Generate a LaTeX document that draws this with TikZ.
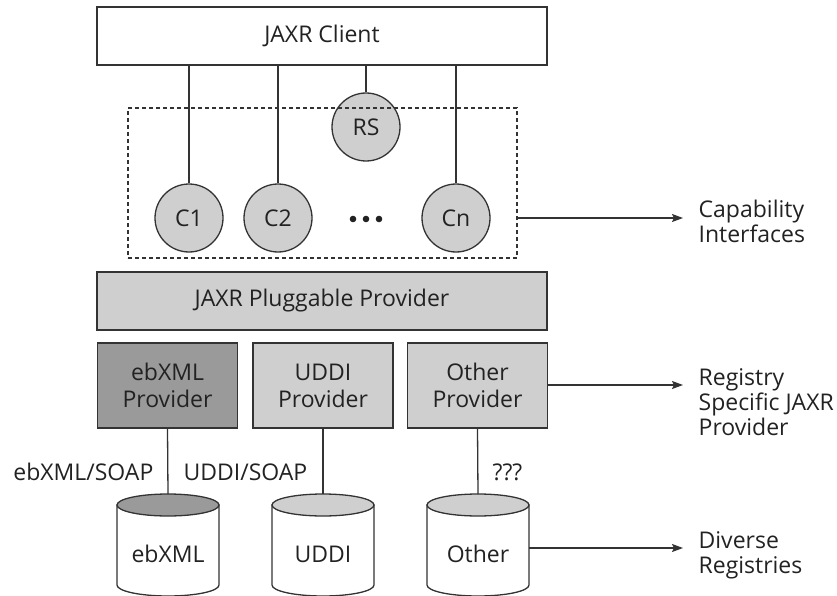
\documentclass[tikz,border=0pt]{standalone}
\usepackage{fontspec}
\setmainfont{Open Sans}
\usetikzlibrary{arrows.meta}
\definecolor{lg}{HTML}{CFCFCF}
\definecolor{dg}{HTML}{9A9A9A}
\definecolor{ln}{HTML}{333333}
\definecolor{tx}{HTML}{222222}
\newcommand\mycyl[2]{%
  \filldraw[draw=ln, fill=white] (#1-51,505) -- (#1-51,585)
    arc[start angle=180, end angle=360, x radius=51pt, y radius=11pt] -- (#1+51,505) -- cycle;
  \filldraw[draw=ln, fill=#2] (#1,505) ellipse[x radius=51pt, y radius=11pt];
}
\begin{document}
\begin{tikzpicture}[x=1pt, y=-1pt, line width=1.3pt, draw=ln,
  every node/.style={text=tx, font=\fontsize{23}{25}\selectfont},
  boxw/.style={draw=ln, rectangle, inner sep=0pt, align=center, minimum width=450pt, minimum height=58pt},
  prov/.style={draw=ln, rectangle, inner sep=0pt, align=center, minimum width=140pt, minimum height=85pt, font=\fontsize{23}{27}\selectfont},
  iface/.style={draw=ln, circle, fill=lg, inner sep=0pt, minimum size=68pt},
  arr/.style={draw=ln, -{Stealth[length=11pt, width=8pt, inset=2pt]}},
  side/.style={anchor=base west, align=left, inner sep=0pt}]
\useasboundingbox (0,0) rectangle (837,596);

% top client
\node[boxw, fill=white] (client) at (322,36) {JAXR Client};
\node[iface] (rs) at (366,127) {RS};
\node[draw=ln, dashed, dash pattern=on 4pt off 3pt, rectangle, minimum width=389pt, minimum height=150pt, inner sep=0pt] (caps) at (322.5,183) {};
\node[iface] (c1) at (189,218) {C1};
\node[iface] (c2) at (278,218) {C2};
\node[iface] (cn) at (456,218) {Cn};
\foreach \dx in {353,366,379} \fill[tx] (\dx,219) circle[radius=3.3pt];

\draw (c1 |- client.south) -- (c1.north);
\draw (c2 |- client.south) -- (c2.north);
\draw (rs |- client.south) -- (rs.north);
\draw (cn |- client.south) -- (cn.north);

\coordinate (capend) at (683,218);
\draw[arr] (caps.east |- capend) -- (capend);
\node[side] (caplab) at (698,242) {Capability\\Interfaces};

% pluggable provider
\node[boxw, fill=lg] (plug) at (322,301) {JAXR Pluggable Provider};

% providers
\node[prov, fill=dg] (ebp) at (167.5,385.5) {ebXML\\Provider};
\node[prov, fill=lg] (udp) at (323,385.5) {UDDI\\Provider};
\node[prov, fill=lg] (otp) at (477.5,385.5) {Other\\Provider};

\coordinate (regend) at (683,385);
\draw[arr] (otp.east |- regend) -- (regend);
\node[side] (reglab) at (698,435) {Registry\\Specific JAXR\\Provider};

% registries
\mycyl{168}{dg}
\mycyl{323}{lg}
\mycyl{478}{lg}
\coordinate (ebtop) at (168,494);
\coordinate (udtop) at (323,494);
\coordinate (ottop) at (478,494);
\node (ebdb) at (168,554) {ebXML};
\node (uddb) at (323,554) {UDDI};
\node (otdb) at (478,554) {Other};

\draw (ebp.south) -- (ebtop);
\draw (udp.south) -- (udtop);
\draw (otp.south) -- (ottop);

\node[anchor=base east, inner sep=0pt] (ebsoap) at (154,480) {ebXML/SOAP};
\node[anchor=base west, inner sep=0pt] (udsoap) at (183,480) {UDDI/SOAP};
\node[anchor=base west, inner sep=0pt] (otq) at (492,480) {???};

\coordinate (otside) at (529,548);
\coordinate (divend) at (683,548);
\draw[arr] (otside) -- (divend);
\node[side] (divlab) at (698,573) {Diverse\\Registries};
\end{tikzpicture}
\end{document}
